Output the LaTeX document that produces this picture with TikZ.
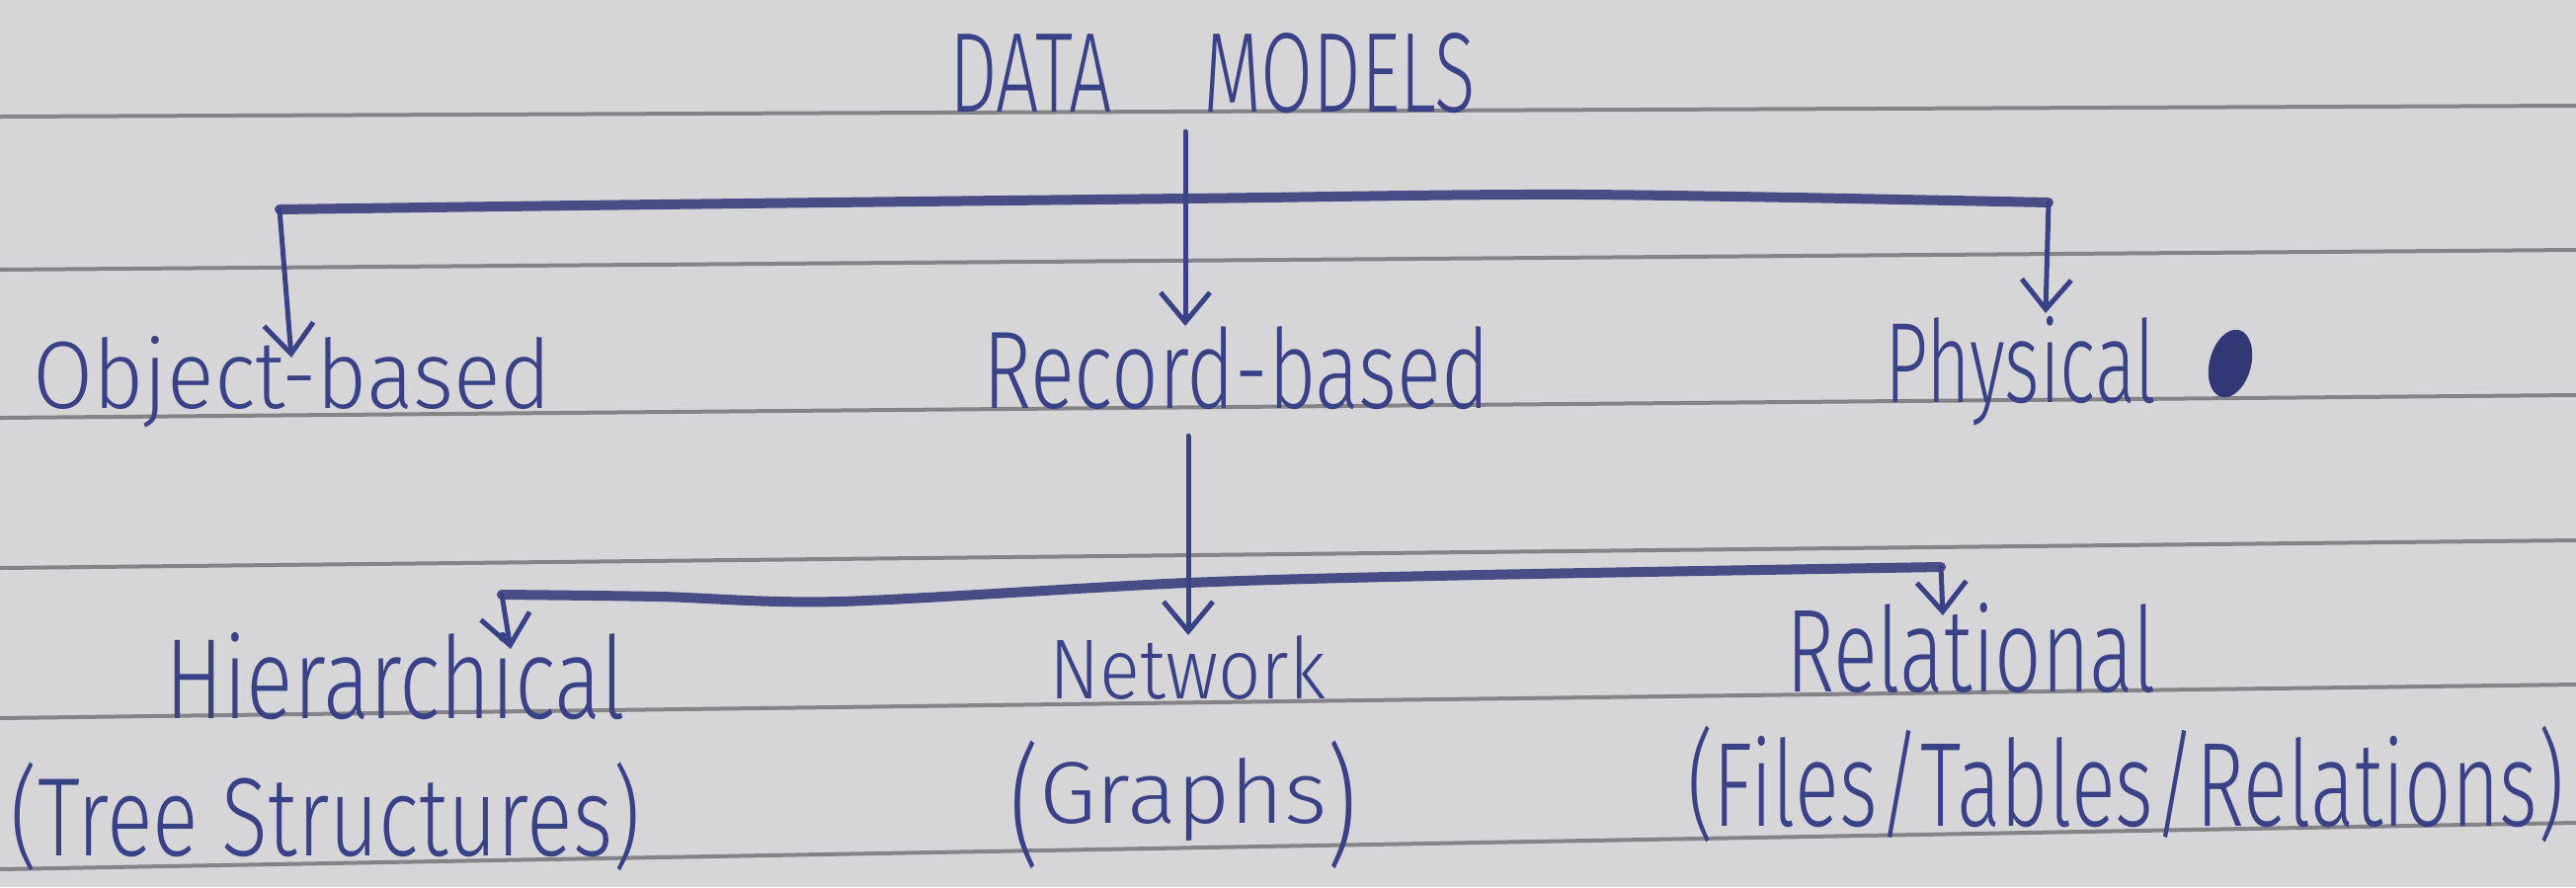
\documentclass[tikz,border=0pt]{standalone}
\usepackage{fontspec}
\setmainfont{Fira Sans}[UprightFont={* Light}]
\usepackage{graphicx}
\usetikzlibrary{arrows.meta}
\definecolor{ink}{RGB}{58,66,135}
\definecolor{paper}{RGB}{214,214,217}
\definecolor{ruling}{RGB}{132,132,136}
\newcommand{\hwtext}[3]{\resizebox{#1pt}{#2pt}{#3}}
\newcommand{\hwtotal}[3]{\resizebox*{#1pt}{#2pt}{#3}}
\newcommand{\tallparen}[2]{\raisebox{-0.25\height}{\scalebox{1}[#1]{#2}}}
\tikzset{
  word/.style={inner sep=0pt, outer sep=0pt, text=ink},
  ruleline/.style={draw=ruling, line width=4pt},
  stem/.style={draw=ink, line width=5pt, line cap=round},
  bar/.style={draw=ink!80!gray, line width=10pt, line cap=round, line join=round},
  tip/.style={-{Straight Barb[length=30pt,width=50pt]}}
}
\begin{document}
\begin{tikzpicture}[x=1pt,y=-1pt]
\useasboundingbox (0,0) rectangle (2608,898);
\fill[paper] (0,0) rectangle (2608,898);
% ruled paper lines
\draw[ruleline] (0,118) -- (2608,107);
\draw[ruleline] (0,273) -- (2608,253);
\draw[ruleline] (0,423) -- (2608,400);
\draw[ruleline] (0,575) -- (2608,547);
\draw[ruleline] (0,727) -- (2608,693);
\draw[ruleline] (0,880) -- (2608,833);

% texts
\node[word, anchor=base west] (title) at (961,113) {\hwtext{533}{80}{DATA\hspace{1.2em}MODELS}};
\node[word, anchor=base west] (obj) at (33,413) {\hwtext{525}{73}{Object-based}};
\node[word, anchor=base west] (rec) at (995,413) {\hwtext{513}{83}{Record-based}};
\node[word, anchor=base west] (phys) at (1908,407) {\hwtext{275}{87}{Physical}};
\node[word, anchor=base west] (hier) at (167,727) {\hwtext{466}{87}{Hierarchical}};
\node[word, anchor=base west] (net) at (1062,707) {\hwtext{280}{64}{Network}};
\node[word, anchor=base west] (rel) at (1808,700) {\hwtext{375}{90}{Relational}};
\node[word, anchor=north west] (tree) at (10,772) {\hwtotal{638}{110}{(Tree Structures)}};
\node[word, anchor=north west] (graphs) at (1022,750) {\hwtotal{352}{130}{\tallparen{1.5}{(}Graphs\tallparen{1.5}{)}}};
\node[word, anchor=north west] (files) at (1708,735) {\hwtotal{888}{118}{(Files/Tables/Relations)}};

% blob after Physical
\fill[ink!85!black, rotate around={-15:(2258,368)}] (2258,368) ellipse [x radius=21, y radius=35];

% first level connectors
\coordinate (J1) at (1200,201);
\coordinate (L1) at (283,212);
\coordinate (R1) at (2074,205);
\coordinate (L1tip) at (295,362);
\coordinate (R1tip) at (2071,317);
\draw[bar] plot[smooth] coordinates {(L1) (667,207) (J1) (1600,197) (R1)};
\draw[stem, tip] (title.south -| J1) ++(0,19) -- (J1) -- (rec.north -| J1);
\draw[stem, tip] (L1) -- (L1tip);
\draw[stem, tip] (R1) -- (R1tip);

% second level connectors
\coordinate (J2) at (1203,590);
\coordinate (L2) at (508,602);
\coordinate (R2) at (1965,574);
\coordinate (L2tip) at (517,657);
\coordinate (R2tip) at (1967,623);
\draw[bar] plot[smooth] coordinates {(L2) (667,604) (850,609) (J2) (1500,582) (R2)};
\draw[stem, tip] (rec.south -| J2) ++(0,27) -- (J2) -- (net.north -| J2);
\draw[stem, tip] (L2) -- (L2tip);
\draw[stem, tip] (R2) -- (R2tip);
\end{tikzpicture}
\end{document}
